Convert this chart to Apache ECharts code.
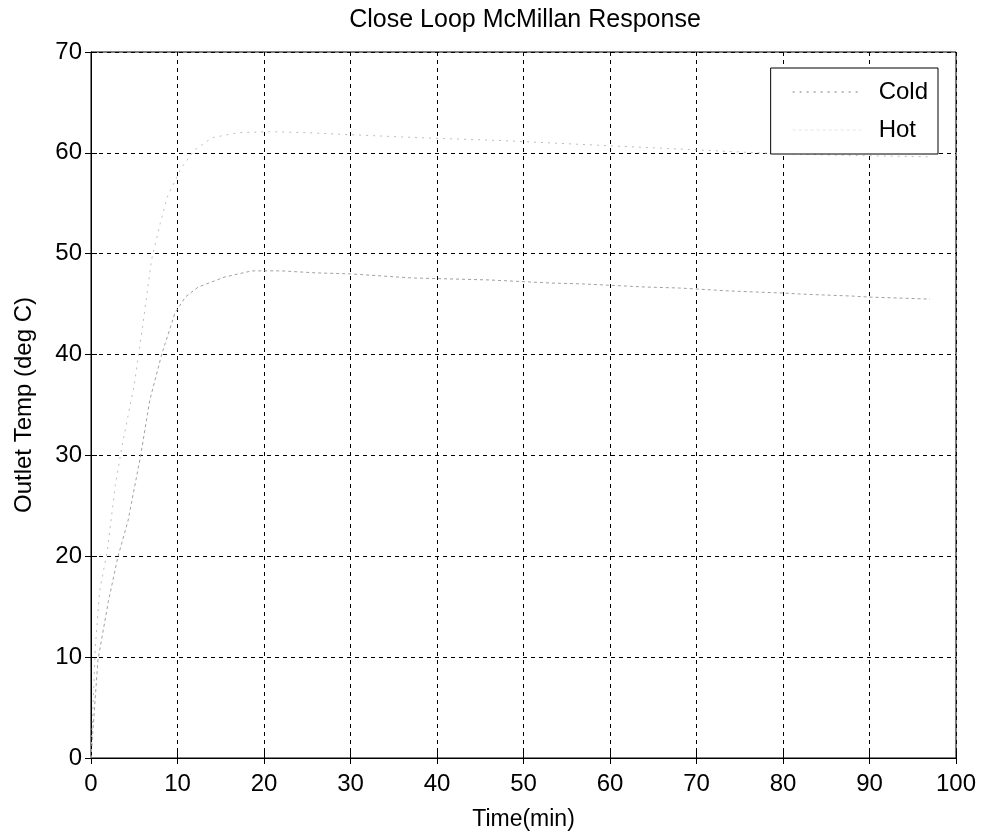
<!DOCTYPE html>
<html>
<head>
<meta charset="utf-8">
<script src="https://cdn.jsdelivr.net/npm/echarts@6/dist/echarts.min.js"></script>
<style>
  html, body { margin: 0; padding: 0; background: #fff; }
  #chart { width: 987px; height: 838px; }
</style>
</head>
<body>
<div id="chart"></div>
<script>
// Outlet temperature response of the heat exchanger under McMillan tuning
const coldTime = [0, 0.5, 1, 1.9, 2.8, 3.6, 5, 6, 7, 8, 8.8, 10.5, 12, 14, 17, 20.5, 25, 30, 38, 48, 60, 70, 77, 85, 97];
const coldTemp = [0, 11, 16.6, 20.6, 27, 31, 37, 43, 49.4, 53, 55.6, 58.6, 60.3, 61.5, 62, 62.1, 62, 61.8, 61.5, 61.2, 60.7, 60.3, 60, 59.8, 59.6];

const hotTime = [0, 0.8, 2, 3.1, 4.3, 5.7, 6.8, 8.2, 9.7, 10.9, 12.4, 15.5, 18.6, 22, 26, 30, 37, 46, 53, 57, 64, 68, 74, 80, 82, 88, 90, 97];
const hotTemp = [0, 9.7, 15.5, 19.9, 23.6, 29.8, 35.5, 40.1, 44.1, 45.7, 46.7, 47.7, 48.3, 48.3, 48.1, 48, 47.6, 47.4, 47.1, 47, 46.7, 46.6, 46.3, 46.1, 46, 45.8, 45.7, 45.5];

const xTicks = [0, 100, 10];   // min, max, step
const yTicks = [0, 70, 10];

const pairs = (xs, ys) => xs.map((x, i) => [x, ys[i]]);

const font = 'Liberation Sans, Arial, sans-serif';
const gridLine = { show: true, lineStyle: { color: '#000', type: [4, 4], width: 1 } };
const frameAxis = { show: true, lineStyle: { color: '#000', width: 1 } };
const innerTick = { inside: true, length: 6, lineStyle: { color: '#000' } };

const chart = echarts.init(document.getElementById('chart'), null, { renderer: 'canvas' });
chart.setOption({
  animation: false,
  backgroundColor: '#fff',
  title: {
    text: 'Close Loop McMillan Response',
    left: 520, top: 3, textAlign: 'center',
    textStyle: { fontFamily: font, fontSize: 25, fontWeight: 'normal', color: '#000' }
  },
  grid: {
    left: 91, right: 31, top: 52, bottom: 80,
    show: true, borderColor: '#000', borderWidth: 1, backgroundColor: '#fff'
  },
  legend: {
    orient: 'vertical',
    right: 49, top: 68,
    itemWidth: 68, itemHeight: 14, itemGap: 14,
    padding: [12, 10, 12, 21],
    backgroundColor: '#fff', borderColor: '#000', borderWidth: 1,
    textStyle: { fontFamily: font, fontSize: 24, color: '#000', lineHeight: 24, padding: [0, 0, 0, 13] },
    data: [
      { name: 'Cold', itemStyle: { opacity: 0 } },
      { name: 'Hot', itemStyle: { opacity: 0 }, lineStyle: { color: '#f2f2f2' } }
    ]
  },
  xAxis: [{
    type: 'value', min: xTicks[0], max: xTicks[1], interval: xTicks[2],
    name: 'Time(min)', nameLocation: 'middle', nameGap: 50,
    nameTextStyle: { fontFamily: font, fontSize: 23, color: '#000' },
    axisLine: frameAxis,
    axisTick: innerTick,
    axisLabel: { fontFamily: font, fontSize: 24, color: '#000', margin: 14 },
    splitLine: gridLine
  }, {
    type: 'value', position: 'top', min: xTicks[0], max: xTicks[1], interval: xTicks[2],
    axisLine: frameAxis, axisTick: innerTick,
    axisLabel: { show: false }, splitLine: { show: false }
  }],
  yAxis: [{
    type: 'value', min: yTicks[0], max: yTicks[1], interval: yTicks[2],
    name: 'Outlet Temp (deg C)', nameLocation: 'middle', nameGap: 55, nameRotate: 90,
    nameTextStyle: { fontFamily: font, fontSize: 24, color: '#000' },
    axisLine: frameAxis,
    axisTick: innerTick,
    axisLabel: { fontFamily: font, fontSize: 24, color: '#000', margin: 9 },
    splitLine: gridLine
  }, {
    type: 'value', position: 'right', min: yTicks[0], max: yTicks[1], interval: yTicks[2],
    axisLine: frameAxis, axisTick: innerTick,
    axisLabel: { show: false }, splitLine: { show: false }
  }],
  series: [{
    name: 'Cold', type: 'line', symbol: 'none',
    data: pairs(coldTime, coldTemp),
    lineStyle: { color: '#bdbdbd', width: 1, type: [2, 5] },
    itemStyle: { color: '#bdbdbd' }
  }, {
    name: 'Hot', type: 'line', symbol: 'none',
    data: pairs(hotTime, hotTemp),
    lineStyle: { color: '#a0a0a0', width: 1, type: [3, 3] },
    itemStyle: { color: '#a0a0a0' }
  }]
});
</script>
</body>
</html>
